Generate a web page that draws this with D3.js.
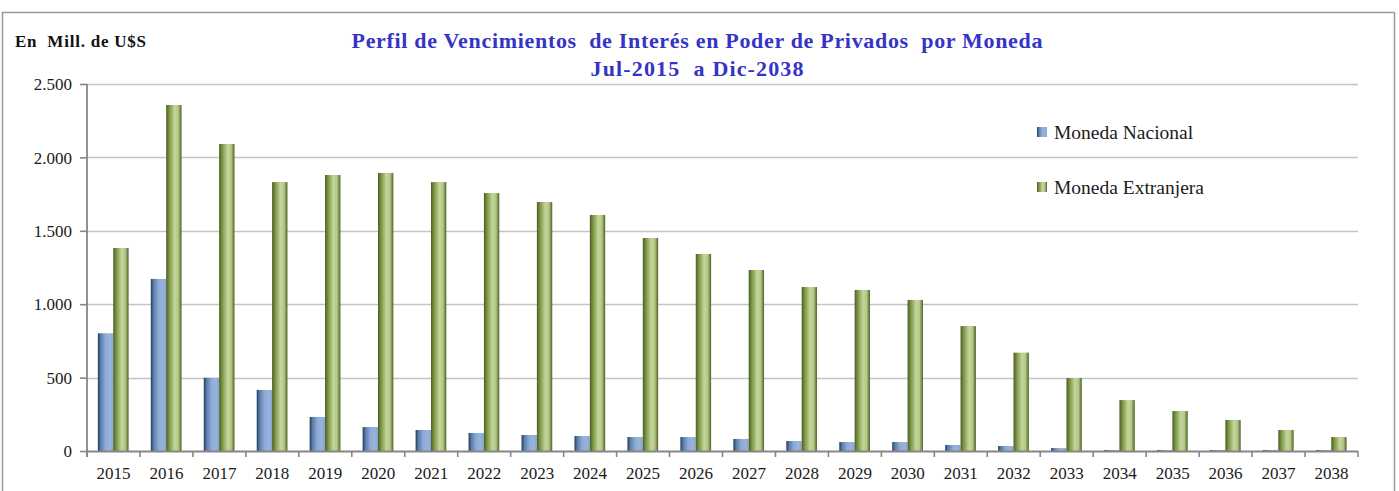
<!DOCTYPE html>
<html><head><meta charset="utf-8">
<script src="https://cdn.jsdelivr.net/npm/d3@7"></script>
<style>
html,body{margin:0;padding:0;background:#fff;}
svg{display:block;}
text{font-family:"Liberation Serif","Times New Roman",serif;}
</style></head>
<body>
<svg id="chart" width="1399" height="491"></svg>
<script>
const years = ["2015","2016","2017","2018","2019","2020","2021","2022","2023","2024","2025","2026","2027","2028","2029","2030","2031","2032","2033","2034","2035","2036","2037","2038"];
const monedaNacional = [802,1172,499,416,232,163,143,123,109,102,95,95,82,68,61,61,41,34,20,7,7,7,7,7];
const monedaExtranjera = [1383,2357,2091,1832,1880,1894,1832,1757,1696,1608,1451,1342,1233,1117,1097,1029,851,670,497,347,272,211,143,95];
const seriesNames = ["Moneda Nacional","Moneda Extranjera"];
const yTicks = [0,500,1000,1500,2000,2500];
const titleLines = ["Perfil de Vencimientos  de Interés en Poder de Privados  por Moneda","Jul-2015  a Dic-2038"];
const unitLabel = "En  Mill. de U$S";

(function(){
const svg = d3.select("#chart");
const defs = svg.append("defs");
function grad(id, stops){
  const g = defs.append("linearGradient").attr("id", id).attr("x1","0%").attr("x2","100%").attr("y1","0%").attr("y2","0%");
  stops.forEach(s => g.append("stop").attr("offset", s[0]).attr("stop-color", s[1]));
}
grad("gBlue", [["0%","#22395a"],["18%","#5a7ba8"],["50%","#8eabd6"],["80%","#97b4da"],["100%","#86a4cf"]]);
grad("gGreen", [["0%","#4a5d25"],["20%","#7b9443"],["55%","#c4d69b"],["78%","#b4c887"],["100%","#4f6228"]]);
const fills = ["url(#gBlue)","url(#gGreen)"];

const pl = 87, pr = 1358, pt = 84, pb = 451;
const x0 = d3.scaleBand().domain(years).range([pl, pr]).paddingInner(0).paddingOuter(0);
const bw = x0.bandwidth();
const x1 = d3.scaleBand().domain(seriesNames).range([bw*0.205, bw*0.785]).padding(0);
const y = d3.scaleLinear().domain([0,2500]).range([pb, pt]);
const fmt = d3.formatLocale({decimal:",", thousands:".", grouping:[3], currency:["",""]}).format(",.0f");

svg.append("rect").attr("x",2.5).attr("y",12.5).attr("width",1392).attr("height",500)
  .attr("fill","none").attr("stroke","#9a9a9a").attr("stroke-width",1.5);

svg.append("g").selectAll("line").data(yTicks.filter(d=>d>0)).join("line")
  .attr("x1",pl).attr("x2",pr).attr("y1",d=>Math.round(y(d))+0.5).attr("y2",d=>Math.round(y(d))+0.5)
  .attr("stroke","#c4c4c4").attr("stroke-width",1.6);

const data = years.map((yr,i)=>({yr, vals:[monedaNacional[i], monedaExtranjera[i]]}));
const grp = svg.append("g").selectAll("g").data(data).join("g").attr("transform", d=>`translate(${x0(d.yr)},0)`);
grp.selectAll("rect").data(d=>d.vals.map((v,j)=>({v,j}))).join("rect")
  .attr("x", d=>x1(seriesNames[d.j])).attr("width", x1.bandwidth())
  .attr("y", d=>y(d.v)).attr("height", d=>pb - y(d.v))
  .attr("fill", d=>fills[d.j]);

const yAxis = d3.axisLeft(y).tickValues(yTicks).tickFormat(fmt).tickSize(7).tickSizeOuter(0);
const gy = svg.append("g").attr("transform",`translate(${pl},0)`).call(yAxis);
gy.attr("font-family",null).attr("font-size",null);
gy.select(".domain").remove();
gy.selectAll(".tick line").attr("stroke","#868686").attr("stroke-width",1.6);
gy.selectAll(".tick text").attr("font-size",17).attr("fill","#1a1a1a").attr("x",-15).attr("dy","0.33em");
svg.append("line").attr("x1",pl).attr("x2",pl).attr("y1",pt).attr("y2",pb+6).attr("stroke","#868686").attr("stroke-width",1.8);

svg.append("line").attr("x1",pl).attr("x2",pr).attr("y1",pb+0.5).attr("y2",pb+0.5).attr("stroke","#868686").attr("stroke-width",2);
const bounds = years.map(d=>x0(d)).concat([pr]);
svg.append("g").selectAll("line").data(bounds).join("line")
  .attr("x1",d=>d).attr("x2",d=>d).attr("y1",pb).attr("y2",pb+6)
  .attr("stroke","#868686").attr("stroke-width",1.6);
svg.append("g").selectAll("text").data(years).join("text")
  .attr("x",d=>x0(d)+bw/2).attr("y",479).attr("text-anchor","middle")
  .attr("font-size",17).attr("fill","#1a1a1a").text(d=>d);

const titleLens = [691, 213];
svg.append("g").selectAll("text").data(titleLines).join("text")
  .attr("x",697).attr("y",(d,i)=>48+i*28).attr("text-anchor","middle")
  .attr("font-size",22).attr("font-weight","bold").attr("fill","#3434c6")
  .attr("textLength",(d,i)=>titleLens[i]).attr("lengthAdjust","spacing")
  .attr("style","white-space:pre").text(d=>d);

svg.append("text").attr("x",15).attr("y",47).attr("font-size",17).attr("font-weight","bold").attr("fill","#111")
  .attr("textLength",131).attr("lengthAdjust","spacing")
  .attr("style","white-space:pre").text(unitLabel);

const leg = svg.append("g").selectAll("g").data(seriesNames).join("g")
  .attr("transform",(d,i)=>`translate(1037,${127+i*55})`);
leg.append("rect").attr("width",10).attr("height",10).attr("fill",(d,i)=>fills[i]);
leg.append("text").attr("x",17).attr("y",12).attr("font-size",19.5).attr("fill","#1a1a1a").text(d=>d);
})();
</script>
</body></html>
